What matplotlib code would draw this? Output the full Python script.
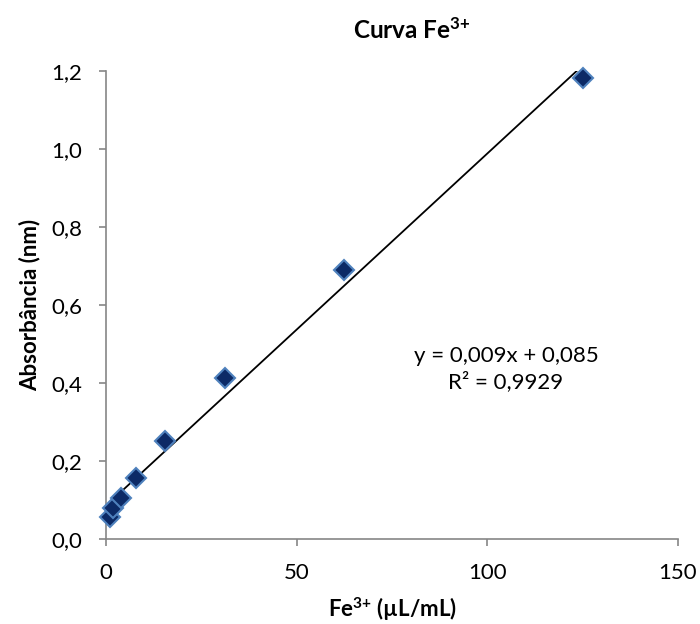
import numpy as np
import matplotlib
matplotlib.use('Agg')
import matplotlib.pyplot as plt
from matplotlib.ticker import FuncFormatter

plt.rcParams['font.family'] = ['Lato', 'DejaVu Sans']
plt.rcParams['mathtext.fontset'] = 'custom'
plt.rcParams['mathtext.rm'] = 'Lato'
plt.rcParams['mathtext.bf'] = 'Lato:bold'
plt.rcParams['mathtext.it'] = 'Lato:italic'

# concentracoes Fe3+ (uL/mL) e absorbancias lidas
conc = [0.98, 1.95, 3.9, 7.8, 15.6, 31.25, 62.5, 125.0]
absorb = [0.057, 0.079, 0.104, 0.157, 0.252, 0.412, 0.690, 1.181]

x_ticks = [0, 50, 100, 150]
y_ticks = [0.0, 0.2, 0.4, 0.6, 0.8, 1.0, 1.2]

slope, inter = np.polyfit(conc, absorb, 1)

fig = plt.figure(figsize=(7, 6.24), dpi=100)
ax = fig.add_axes([106/700, 1-539/624, (678-106)/700, (539-71)/624])

xl = np.array([min(conc), max(conc)])
ax.plot(xl, slope*xl + inter, color='black', lw=1.3, zorder=2)
ax.plot(conc, absorb, ls='none', marker='D', ms=10, mfc='#0c2a66',
        mec='#4f81bd', mew=1.5, zorder=3, clip_on=False)

ax.set_xlim(0, 150)
ax.set_ylim(0, 1.2)
ax.set_xticks(x_ticks)
ax.set_yticks(y_ticks)
ax.yaxis.set_major_formatter(FuncFormatter(lambda v, p: ('%.1f' % v).replace('.', ',')))

for s in ['top', 'right']:
    ax.spines[s].set_visible(False)
for s in ['left', 'bottom']:
    ax.spines[s].set_color('#868686')
    ax.spines[s].set_linewidth(1.2)
ax.tick_params(direction='out', length=5, width=1.2, color='#868686',
               labelsize=16, pad=12)

sup = r'$^{\mathbf{3}\mathbf{+}}$'
ax.set_xlabel('Fe' + sup + ' (µL/mL)', fontsize=16, fontweight='bold', labelpad=9)
ax.set_ylabel('Absorbância (nm)', fontsize=16, fontweight='bold', labelpad=8)
fig.text(412/700, 1-30/624, 'Curva Fe' + sup, fontsize=17.5, fontweight='bold',
         ha='center', va='center')

ax.text(506/700, 1-369/624, 'y = 0,009x + 0,085\nR² = 0,9929', transform=fig.transFigure,
        fontsize=16, ha='center', va='center', linespacing=1.3)

fig.savefig('out.png', dpi=100)
